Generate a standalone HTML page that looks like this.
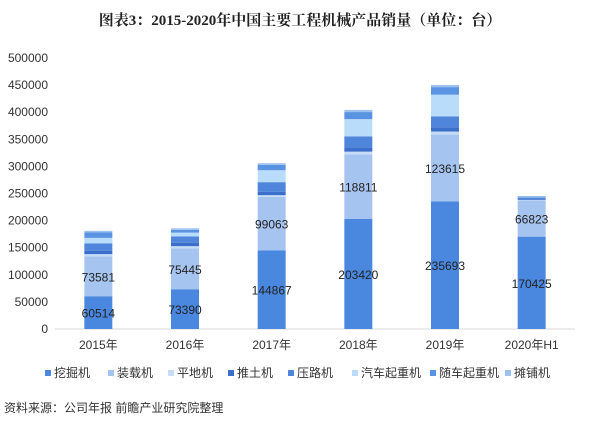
<!DOCTYPE html>
<html><head><meta charset="utf-8"><style>
body{margin:0;background:#fff;width:600px;height:427px;overflow:hidden;font-family:"Liberation Sans","Noto Sans CJK SC",sans-serif}
</style></head><body>
<svg width="600" height="427" id="c" xmlns="http://www.w3.org/2000/svg">
<text x="300" y="25" text-anchor="middle" font-size="15" font-weight="bold" fill="#222" font-family="Liberation Serif, Noto Serif CJK SC, serif">图表3：2015-2020年中国主要工程机械产品销量（单位：台）</text>
<text x="4" y="412" font-size="12" fill="#333">资料来源：公司年报 前瞻产业研究院整理</text>
</svg>
<script>
const categories=["2015年","2016年","2017年","2018年","2019年","2020年H1"];
const seriesNames=["挖掘机","装载机","平地机","推土机","压路机","汽车起重机","随车起重机","摊铺机"];
const excavator=[60514,73390,144867,203420,235693,170425];
const loader=[73581,75445,99063,118811,123615,66823];
const grader=[4000,4000,3000,5000,5000,1000];
const dozer=[6000,6000,6000,8000,8000,1500];
const roller=[14000,12000,18000,20000,20000,3000];
const truckCrane=[10000,7000,22000,32000,40000,1000];
const mountedCrane=[10000,5000,10000,13000,14000,1000];
const paver=[3000,3000,3000,4000,4000,500];
const yTicks=[0,50000,100000,150000,200000,250000,300000,350000,400000,450000,500000];
const colors=["#4a88e0","#a6c4f0","#c6dcf7","#3b6fcb","#4f85da","#b8dcfa","#5b93e3","#9dc2ef"];
const series=[excavator,loader,grader,dozer,roller,truckCrane,mountedCrane,paver];
const svg=document.getElementById('c');const NS="http://www.w3.org/2000/svg";
const y0=329,yTop=58,yMax=500000,xL=55,xR=575;
const y=v=>y0-(v/yMax)*(y0-yTop);
const bw=(xR-xL)/categories.length;const x=i=>xL+bw*(i+0.5);
function mk(t,a){const e=document.createElementNS(NS,t);for(const k in a)e.setAttribute(k,a[k]);svg.appendChild(e);return e;}
yTicks.forEach(t=>{const e=mk('text',{x:48,y:y(t)+4,'text-anchor':'end','font-size':12,fill:'#333'});e.textContent=t;

});
const ax=mk('line',{x1:xL,x2:xR,y1:y0,y2:y0,stroke:'#d9d9d9'});


categories.forEach((c,i)=>{let acc=0;
series.forEach((s,j)=>{const v=s[i];const r=mk('rect',{x:x(i)-14,width:28,y:y(acc+v),height:y(acc)-y(acc+v),fill:colors[j]});


if(j<2){const t=mk('text',{x:x(i),y:(y(acc)+y(acc+v))/2+5,'text-anchor':'middle','font-size':12,fill:'#222'});t.textContent=v;

}
acc+=v;});
const l=mk('text',{x:x(i),y:349,'text-anchor':'middle','font-size':12,fill:'#333'});l.textContent=c;

});
const lx=[45,108,168,228,288,352,430,505];
seriesNames.forEach((n,j)=>{const r=mk('rect',{x:lx[j],y:370,width:6,height:6,fill:colors[j]});


const t=mk('text',{x:lx[j]+9,y:377,'font-size':12,fill:'#333'});t.textContent=n;

});
</script>
</body></html>
